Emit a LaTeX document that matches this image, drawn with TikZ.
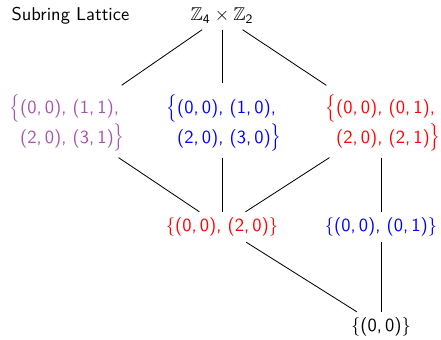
\documentclass[tikz,border=0pt]{standalone}
\usepackage{amsmath,amssymb}
\usepackage{graphicx}
\usepackage{tikz}
\usetikzlibrary{positioning}
\definecolor{RingPurple}{RGB}{165, 85, 170}
\definecolor{RingBlue}{RGB}{0, 0, 255}
\definecolor{RingRed}{RGB}{255, 0, 0}
\newcommand{\pair}[2]{(#1,\,#2)}
\newcommand{\lbrc}{\scalebox{1}[1.25]{$\big\{$}}
\newcommand{\rbrc}{\scalebox{1}[1.25]{$\big\}$}}
\tikzset{
  ringnode/.style={align=left, inner sep=3pt, font=\sffamily},
  latline/.style={black, line width=0.45pt}
}
\begin{document}
\begin{tikzpicture}[x=0.019cm, y=-0.019cm]
    \useasboundingbox (0,0) rectangle (441,340);
    % Nodes
    \node [font=\sffamily, anchor=west] (title) at (5,16) {Subring Lattice};
    \node [ringnode] (whole) at (222,16) {$\mathbb{Z}_{\text{4}} \times \mathbb{Z}_{\text{2}}$};
    \node [ringnode, RingPurple] (sub1) at (67,123) {\lbrc\pair{0}{0}, \pair{1}{1},\\\phantom{\lbrc}\pair{2}{0}, \pair{3}{1}\rbrc};
    \node [ringnode, RingBlue] (sub2) at (224,123) {\lbrc\pair{0}{0}, \pair{1}{0},\\\phantom{\lbrc}\pair{2}{0}, \pair{3}{0}\rbrc};
    \node [ringnode, RingRed] (sub3) at (383,123) {\lbrc\pair{0}{0}, \pair{0}{1},\\\phantom{\lbrc}\pair{2}{0}, \pair{2}{1}\rbrc};
    \node [ringnode, RingRed] (ideal1) at (222,227) {$\{$\pair{0}{0}, \pair{2}{0}$\}$};
    \node [ringnode, RingBlue] (ideal2) at (381,227) {$\{$\pair{0}{0}, \pair{0}{1}$\}$};
    \node [ringnode] (zero) at (381,327) {$\{$\pair{0}{0}$\}$};

    % Paths
    \draw[latline, shorten >=3pt] (whole) -- (sub1);
    \draw[latline, shorten >=3pt] (whole.south) -- (whole.south |- sub2.north);
    \draw[latline, shorten >=3pt] (whole) -- (sub3);
    \draw[latline] (sub1) -- (ideal1);
    \draw[latline] (sub2.south -| ideal1.north) -- (ideal1.north);
    \draw[latline] (sub3) -- (ideal1);
    \draw[latline] (sub3.south -| ideal2.north) -- (ideal2.north);
    \draw[latline] (ideal1) -- (zero);
    \draw[latline] (ideal2) -- (zero);
  \end{tikzpicture}
\end{document}
